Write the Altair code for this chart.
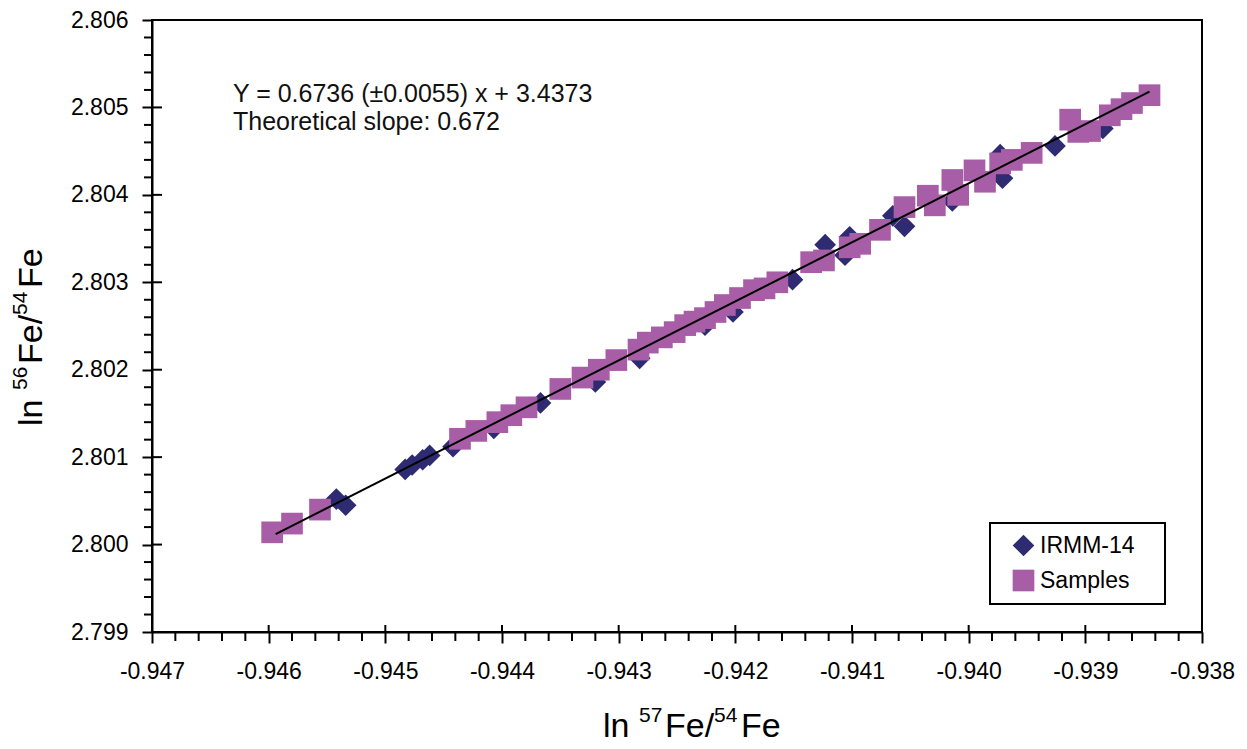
import altair as alt
import pandas as pd

# ---------------- data ----------------
irmm_x = [-0.94542, -0.94534, -0.94483, -0.94477, -0.94468, -0.94462, -0.94442,
          -0.94407, -0.94367, -0.94320, -0.94282, -0.94226, -0.94202, -0.94151,
          -0.94123, -0.94102, -0.94106, -0.94065, -0.94055, -0.94014, -0.93973,
          -0.93971, -0.93926, -0.93885]
irmm_y = [2.80052, 2.80045, 2.80086, 2.80091, 2.80097, 2.80102, 2.80112,
          2.80133, 2.80162, 2.80186, 2.80213, 2.80251, 2.80266, 2.80303,
          2.80343, 2.80352, 2.80331, 2.80376, 2.80364, 2.80393, 2.80446,
          2.80419, 2.80456, 2.80476]

samp_x = [-0.94597, -0.94580, -0.94556, -0.94436, -0.94422, -0.94404, -0.94392,
          -0.94379, -0.94350, -0.94331, -0.94317, -0.94302, -0.94283, -0.94275,
          -0.94263, -0.94252, -0.94243, -0.94235, -0.94226, -0.94217, -0.94209,
          -0.94196, -0.94184, -0.94175, -0.94164, -0.94135, -0.94124, -0.94102,
          -0.94093, -0.94076, -0.94055, -0.94035, -0.94029, -0.94014, -0.94009,
          -0.93995, -0.93986, -0.93973, -0.93963, -0.93946, -0.93913, -0.93906,
          -0.93896, -0.93879, -0.93869, -0.93860, -0.93845]
samp_y = [2.80014, 2.80024, 2.80040, 2.80121, 2.80130, 2.80140, 2.80148,
          2.80157, 2.80178, 2.80191, 2.80200, 2.80211, 2.80223, 2.80231,
          2.80237, 2.80243, 2.80251, 2.80255, 2.80259, 2.80266, 2.80274,
          2.80282, 2.80291, 2.80293, 2.80300, 2.80323, 2.80325, 2.80340,
          2.80344, 2.80360, 2.80386, 2.80399, 2.80388, 2.80417, 2.80400,
          2.80428, 2.80415, 2.80436, 2.80440, 2.80448, 2.80486, 2.80472,
          2.80473, 2.80491, 2.80498, 2.80505, 2.80514]

series_names = ["IRMM-14", "Samples"]

fit_x = [-0.94594, -0.93845]
fit_y = [2.80012, 2.80518]

x_ticks = [-0.947, -0.946, -0.945, -0.944, -0.943, -0.942, -0.941, -0.940, -0.939, -0.938]
y_ticks = [2.799, 2.800, 2.801, 2.802, 2.803, 2.804, 2.805, 2.806]

equation_text = "Y = 0.6736 (\u00b10.0055) x + 3.4373"
slope_text = "Theoretical slope: 0.672"
# axis titles, split so that the isotope masses can be set as superscripts
x_title_parts = ["ln", "57", "Fe/", "54", "Fe"]
y_title_parts = ["ln", "56", "Fe/", "54", "Fe"]
title_is_sup = [False, True, False, True, False]

# minor ticks: 5 subdivisions between major ticks
x_minor = [round(a + k * 0.0002, 4) for a in x_ticks[:-1] for k in range(1, 5)]
y_minor = [round(a + k * 0.0002, 4) for a in y_ticks[:-1] for k in range(1, 5)]

# ---------------- styling ----------------
FONT = "Liberation Sans"
NAVY = "#2E2B72"
PURPLE = "#A85EA6"
TITLE_SIZE = 34
SUP_SIZE = 21
SUP_RAISE = 15
part_offsets = [0, 36, 62, 111, 138]   # advance of each title part, px

pts = pd.DataFrame({
    "x": irmm_x + samp_x,
    "y": irmm_y + samp_y,
    "series": [series_names[0]] * len(irmm_x) + [series_names[1]] * len(samp_x),
})
fit = pd.DataFrame({"x": fit_x, "y": fit_y})

x_scale = alt.Scale(domain=[x_ticks[0], x_ticks[-1]], nice=False, zero=False)
y_scale = alt.Scale(domain=[y_ticks[0], y_ticks[-1]], nice=False, zero=False)

x_axis = alt.Axis(
    values=x_ticks, labelExpr="(datum.value < 0 ? '-' : '') + format(abs(datum.value), '.3f')",
    labelFont=FONT, labelFontSize=23, labelColor="black", labelPadding=17,
    labelFlush=False, labelOverlap=False,
    tickColor="black", tickWidth=2, tickSize=11,
    domainColor="black", domainWidth=2, grid=False,
)
y_axis = alt.Axis(
    values=y_ticks, format=".3f",
    labelFont=FONT, labelFontSize=23, labelColor="black", labelPadding=14,
    labelFlush=False, labelOverlap=False,
    tickColor="black", tickWidth=2, tickSize=10,
    domainColor="black", domainWidth=2, grid=False,
)


def X(field):
    return alt.X(field, scale=x_scale, axis=x_axis, title=None)


def Y(field):
    return alt.Y(field, scale=y_scale, axis=y_axis, title=None)


PAD = "\u00a0\u00a0\u00a0\u200b"   # widens the legend box like the original
legend = alt.Legend(
    title=None, orient="none", legendX=838, legendY=503,
    fillColor="white", strokeColor="black", padding=11, cornerRadius=0,
    symbolSize=470, symbolOffset=11, symbolStrokeWidth=0, rowPadding=11,
    labelFont=FONT, labelFontSize=23, labelColor="black", labelOffset=5,
    labelExpr="datum.label + '" + PAD + "'",
)

points = alt.Chart(pts).mark_point(filled=True, opacity=1, size=470, strokeWidth=0).encode(
    x=X("x:Q"),
    y=Y("y:Q"),
    shape=alt.Shape("series:N", scale=alt.Scale(domain=series_names, range=["diamond", "square"]), legend=legend),
    color=alt.Color("series:N", scale=alt.Scale(domain=series_names, range=[NAVY, PURPLE]), legend=legend),
)

fit_line = alt.Chart(fit).mark_line(color="black", strokeWidth=2).encode(
    x=X("x:Q"), y=Y("y:Q"),
)

# tick decorations: inner halves of major ticks and outer minor ticks
x_major_df = pd.DataFrame({"v": x_ticks})
y_major_df = pd.DataFrame({"w": y_ticks})
x_minor_df = pd.DataFrame({"v": x_minor})
y_minor_df = pd.DataFrame({"w": y_minor})

x_major_in = alt.Chart(x_major_df).mark_rule(color="black", strokeWidth=2).encode(
    x=X("v:Q"), y=alt.value(605), y2=alt.value(612))
y_major_in = alt.Chart(y_major_df).mark_rule(color="black", strokeWidth=2).encode(
    y=Y("w:Q"), x=alt.value(0), x2=alt.value(10))
x_minor_out = alt.Chart(x_minor_df).mark_rule(color="black", strokeWidth=2).encode(
    x=X("v:Q"), y=alt.value(612), y2=alt.value(621))
y_minor_out = alt.Chart(y_minor_df).mark_rule(color="black", strokeWidth=2).encode(
    y=Y("w:Q"), x=alt.value(-8), x2=alt.value(0))

eq = alt.Chart(pd.DataFrame({"t": [equation_text]})).mark_text(
    align="left", baseline="alphabetic", font=FONT, fontSize=25, color="#111111").encode(
    text="t:N", x=alt.value(81), y=alt.value(82))
sl = alt.Chart(pd.DataFrame({"t": [slope_text]})).mark_text(
    align="left", baseline="alphabetic", font=FONT, fontSize=25, color="#111111").encode(
    text="t:N", x=alt.value(81), y=alt.value(110))

# axis titles built from parts
title_layers = []
X_TITLE_LEFT, X_TITLE_BASE = 451, 717      # plot coordinates
Y_TITLE_BASE, Y_TITLE_BOTTOM = -110, 406
for part, sup, off in zip(x_title_parts, title_is_sup, part_offsets):
    title_layers.append(
        alt.Chart(pd.DataFrame({"t": [part]})).mark_text(
            align="left", baseline="alphabetic", font=FONT,
            fontSize=SUP_SIZE if sup else TITLE_SIZE, color="black").encode(
            text="t:N", x=alt.value(X_TITLE_LEFT + off),
            y=alt.value(X_TITLE_BASE - (SUP_RAISE if sup else 0))))
for part, sup, off in zip(y_title_parts, title_is_sup, part_offsets):
    title_layers.append(
        alt.Chart(pd.DataFrame({"t": [part]})).mark_text(
            align="left", baseline="alphabetic", font=FONT, angle=270,
            fontSize=SUP_SIZE if sup else TITLE_SIZE, color="black").encode(
            text="t:N", x=alt.value(Y_TITLE_BASE - (SUP_RAISE if sup else 0)),
            y=alt.value(Y_TITLE_BOTTOM - off)))

chart = alt.layer(
    points, fit_line, x_major_in, y_major_in, x_minor_out, y_minor_out, eq, sl, *title_layers
).properties(
    width=1050, height=612,
    autosize=alt.AutoSizeParams(type="none"),
    padding={"left": 144, "top": 12, "right": 37, "bottom": 113},
    background="white",
).configure_view(
    stroke="black", strokeWidth=2
).configure_legend(
    strokeWidth=2
)

chart.save("out.html", embed_options={"renderer": "svg", "actions": False})
